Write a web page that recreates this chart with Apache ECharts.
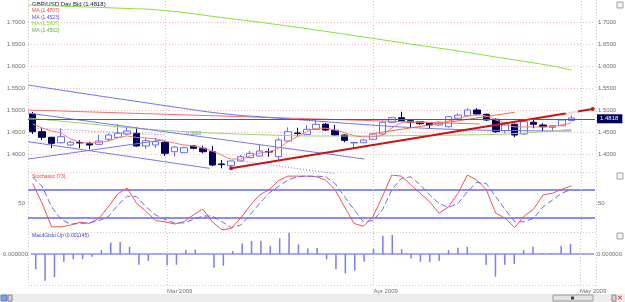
<!DOCTYPE html>
<html>
<head>
<meta charset="utf-8">
<script src="https://cdn.jsdelivr.net/npm/echarts@6/dist/echarts.min.js"></script>
<style>
html, body { margin: 0; padding: 0; background: #fff; }
#chart { width: 625px; height: 302px; }
</style>
</head>
<body>
<div id="chart"></div>
<script>
// trading days, plus two empty slots at the right edge
var dates = ['2009-02-10','2009-02-11','2009-02-12','2009-02-13','2009-02-16','2009-02-17','2009-02-18','2009-02-19','2009-02-20','2009-02-23','2009-02-24','2009-02-25','2009-02-26','2009-02-27',
  '2009-03-02','2009-03-03','2009-03-04','2009-03-05','2009-03-06','2009-03-09','2009-03-10','2009-03-11','2009-03-12','2009-03-13','2009-03-16','2009-03-17','2009-03-18','2009-03-19','2009-03-20','2009-03-23','2009-03-24','2009-03-25','2009-03-26','2009-03-27','2009-03-30','2009-03-31',
  '2009-04-01','2009-04-02','2009-04-03','2009-04-06','2009-04-07','2009-04-08','2009-04-09','2009-04-10','2009-04-13','2009-04-14','2009-04-15','2009-04-16','2009-04-17','2009-04-20','2009-04-21','2009-04-22','2009-04-23','2009-04-24','2009-04-27','2009-04-28','2009-04-29','2009-04-30',
  '2009-05-01','2009-05-04'];
var monthStarts = ['2009-03-02', '2009-04-01', '2009-05-01'];
var monthNames = ['Mar 2009', 'Apr 2009', 'May 2009'];

// open, close, low, high
var candles = [
  [1.4909,1.4507,1.4455,1.4955],[1.4507,1.4380,1.4318,1.4598],[1.4380,1.4243,1.4130,1.4386],[1.4257,1.4393,1.4239,1.4584],
  [1.4205,1.4266,1.4182,1.4295],[1.4261,1.4252,1.4136,1.4318],[1.4239,1.4205,1.4107,1.4280],[1.4220,1.4295,1.4205,1.4432],
  [1.4334,1.4432,1.4280,1.4470],[1.4380,1.4470,1.4364,1.4675],[1.4455,1.4523,1.4432,1.4591],[1.4470,1.4182,1.4166,1.4607],
  [1.4182,1.4302,1.4114,1.4357],[1.4205,1.4280,1.4136,1.4364],[1.4266,1.4016,1.3955,1.4295],[1.4052,1.4159,1.3939,1.4182],
  [1.4030,1.4143,1.4023,1.4166],[1.4182,1.4130,1.4107,1.4205],[1.4130,1.4052,1.4016,1.4189],[1.4052,1.3750,1.3727,1.4182],
  [1.3773,1.3759,1.3675,1.3864],[1.3734,1.3841,1.3675,1.3852],[1.3841,1.3939,1.3830,1.3977],[1.3916,1.4016,1.3909,1.4068],
  [1.3955,1.4068,1.3943,1.4205],[1.4057,1.4045,1.3939,1.4130],[1.3939,1.4318,1.3864,1.4364],[1.4295,1.4507,1.4284,1.4607],
  [1.4477,1.4464,1.4393,1.4598],[1.4448,1.4561,1.4436,1.4659],[1.4561,1.4675,1.4550,1.4780],[1.4675,1.4545,1.4523,1.4705],
  [1.4539,1.4432,1.4409,1.4659],[1.4432,1.4311,1.4266,1.4443],[1.4252,1.4261,1.4130,1.4266],[1.4257,1.4318,1.4250,1.4341],
  [1.4334,1.4455,1.4318,1.4477],[1.4455,1.4722,1.4420,1.4739],[1.4722,1.4825,1.4705,1.4834],[1.4825,1.4757,1.4739,1.4961],
  [1.4757,1.4722,1.4591,1.4773],[1.4734,1.4689,1.4659,1.4750],[1.4698,1.4659,1.4584,1.4716],[1.4659,1.4722,1.4636,1.4739],
  [1.4620,1.4848,1.4602,1.4864],[1.4811,1.4886,1.4795,1.4925],[1.4870,1.5000,1.4857,1.5039],[1.5000,1.4909,1.4886,1.5045],
  [1.4902,1.4773,1.4750,1.4920],[1.4789,1.4507,1.4484,1.4807],[1.4530,1.4659,1.4470,1.4670],[1.4675,1.4432,1.4380,1.4693],
  [1.4455,1.4734,1.4439,1.4750],[1.4722,1.4675,1.4584,1.4811],[1.4659,1.4620,1.4507,1.4698],[1.4607,1.4643,1.4523,1.4659],
  [1.4643,1.4773,1.4636,1.4795],[1.4761,1.4818,1.4739,1.4955]
];
var lastClose = 1.4818;

// moving averages
var maRed = [1.4682,1.4591,1.4523,1.4477,1.4341,1.4273,1.4250,1.4261,1.4295,1.4364,1.4409,1.4375,1.4364,1.4341,1.4295,1.4250,
  1.4205,1.4182,1.4136,1.4068,1.3977,1.3886,1.3886,1.3955,1.4023,1.4052,1.4130,1.4280,1.4393,1.4507,1.4584,1.4584,
  1.4545,1.4484,1.4416,1.4393,1.4393,1.4432,1.4591,1.4705,1.4727,1.4727,1.4716,1.4705,1.4750,1.4795,1.4864,1.4886,
  1.4864,1.4773,1.4705,1.4614,1.4614,1.4614,1.4614,1.4625,1.4659,1.4707];
var maBlue = [[-0.5,1.5568],[5,1.5386],[10,1.5227],[15,1.5068],[20,1.4920],[25,1.4830],[30,1.4750],[35,1.4670],[40,1.4602],[45,1.4557],[50,1.4534],[57,1.4523]];
var maGreenLong = [[-0.5,1.7386],[10,1.7307],[14,1.7261],[20,1.7102],[25,1.6966],[30,1.6818],[35,1.6659],[40,1.6500],[45,1.6341],[50,1.6170],[55,1.6000],[57,1.5907]];
var maGreen = [[-0.5,1.4818],[5,1.4705],[10,1.4602],[15,1.4523],[19,1.4477],[25,1.4432],[30,1.4409],[35,1.4409],[40,1.4420],[45,1.4432],[50,1.4455],[55,1.4523],[57,1.4562]];

// drawn trend lines (bar index, price)
var trendRed = [[21,1.3675],[59.26,1.5023]];
var trendOrange = [[35.7,1.4455],[51,1.4948]];
var trendRedTop = [[-0.5,1.5000],[47.3,1.4682]];
var trendBlueMid = [[-0.5,1.4932],[35.1,1.3886]];
var trendBlueLow = [[-0.5,1.4280],[18.7,1.3675]];
var trendBlueUp = [[-0.5,1.3886],[13.8,1.4318]];
var dotsBlue1 = [[0.2,1.4591],[14,1.4432]];
var dotsBlue2 = [[22,1.3840],[32,1.3555]];

// stochastic
var stochK = [85,50,9,9,12,17,15,24,44,67,77,50,36,20,18,14,18,30,40,18,4,6,24,46,65,74,90,98,98,98,97,
  91,74,44,15,10,27,62,100,98,83,68,53,33,44,68,100,91,74,33,24,8,28,40,65,68,75,81];
var stochD = [96,80,44,22,14,15,16,20,27,47,63,62,44,30,22,16,16,22,28,28,18,8,12,30,50,68,80,91,97,98,98,
  97,85,62,39,18,20,39,74,94,97,83,65,50,43,50,71,87,85,62,39,18,18,24,44,56,68,75];

// macd histogram
var macdHist = [-0.001729,-0.003017,-0.002633,-0.000870,-0.000599,-0.000565,-0.000305,0.000452,0.001322,0.001356,0.000825,
  -0.001209,-0.000757,0.000079,-0.001277,-0.001209,0.000452,0.000531,0.000034,-0.001548,-0.001322,0.000339,0.001209,
  0.001469,0.001469,0.000904,0.001774,0.002407,0.001096,0.000644,0.000678,-0.000599,-0.001729,-0.002181,-0.001887,
  -0.000870,0.000565,0.002068,0.002181,0.000565,-0.000486,-0.000870,-0.000938,-0.000757,0.000452,0.000712,0.000825,
  0.000023,-0.001209,-0.002565,-0.001209,-0.001130,0.000452,0.000825,0.000113,0.000113,0.000904,0.001145];

var font = 'Liberation Sans, Arial, sans-serif';
var gridLine = { color: '#eebcbc', type: [1, 2], width: 1 };
var monthLine = { color: '#c8c8c8', type: [1, 2], width: 1 };

var monthMarks = monthStarts.map(function (d) {
  return { xAxis: d, lineStyle: monthLine };
});
var monthMarksIdx = monthStarts.map(function (d) {
  return { xAxis: dates.indexOf(d), lineStyle: monthLine };
});

function priceAxis(pos, withLines) {
  return {
    type: 'value', gridIndex: 0, position: pos, min: 1.35, max: 1.75, interval: 0.05,
    axisLine: { show: false }, axisTick: { show: false },
    axisLabel: { showMinLabel: false, showMaxLabel: false, fontSize: 6, fontFamily: font, color: '#707070', margin: 3,
      formatter: function (v) { return v.toFixed(4); } },
    splitLine: { show: withLines, showMinLine: false, showMaxLine: false, lineStyle: gridLine }
  };
}
function stochAxis(pos) {
  return {
    type: 'value', gridIndex: 1, position: pos, min: 0, max: 100, interval: 50,
    axisLine: { show: false }, axisTick: { show: false }, splitLine: { show: false },
    axisLabel: { fontSize: 6, fontFamily: font, color: '#707070', margin: 3,
      formatter: function (v) { return v === 50 ? '50' : ''; } }
  };
}
function macdAxis(pos) {
  return {
    type: 'value', gridIndex: 2, position: pos, min: -0.0035, max: 0.0025, interval: 0.0005,
    axisLine: { show: false }, axisTick: { show: false }, splitLine: { show: false },
    axisLabel: { fontSize: 6, fontFamily: font, color: '#707070', margin: 3,
      formatter: function (v) { return Math.abs(v) < 1e-9 ? '0.000000' : ''; } }
  };
}
function trend(data, color, width, type) {
  return { type: 'line', xAxisIndex: 1, yAxisIndex: 0, data: data, symbol: 'none', silent: true, z: 3,
    lineStyle: { color: color, width: width, type: type || 'solid' } };
}
function legendText(x, y, text, color, size) {
  return { type: 'text', x: x, y: y, style: { text: text, fill: color, font: size + 'px ' + font, textVerticalAlign: 'middle' } };
}
function sep(x1, y1, x2, y2) {
  return { type: 'line', shape: { x1: x1, y1: y1, x2: x2, y2: y2 }, style: { stroke: '#d6c8c8', lineWidth: 1, lineDash: [1, 2] }, silent: true };
}
function closeBox(y) {
  return { type: 'rect', shape: { x: 617, y: y, width: 6, height: 6 }, style: { fill: '#f4f4f4', stroke: '#a0a0a0', lineWidth: 1 }, silent: true };
}

var chart = echarts.init(document.getElementById('chart'), null, { renderer: 'canvas' });
chart.setOption({
  animation: false,
  backgroundColor: '#ffffff',
  grid: [
    { left: 28, right: 30, top: 0, height: 176 },
    { left: 28, right: 30, top: 175, height: 57 },
    { left: 28, right: 30, top: 232, height: 53 }
  ],
  xAxis: [
    { type: 'category', gridIndex: 0, data: dates, boundaryGap: true, show: false },
    { type: 'value', gridIndex: 0, min: -0.5, max: 59.5, show: false },
    { type: 'category', gridIndex: 1, data: dates, boundaryGap: true, show: false },
    { type: 'category', gridIndex: 2, data: dates, boundaryGap: true,
      axisLine: { show: false }, axisTick: { show: false }, splitLine: { show: false },
      axisLabel: { fontSize: 6, fontFamily: font, color: '#707070', margin: 3, align: 'left',
        interval: function (i, v) { return monthStarts.indexOf(v) >= 0; },
        formatter: function (v) { return monthNames[monthStarts.indexOf(v)]; } } }
  ],
  yAxis: [
    priceAxis('left', true), priceAxis('right', false),
    stochAxis('left'), stochAxis('right'),
    macdAxis('left'), macdAxis('right')
  ],
  series: [
    { type: 'line', xAxisIndex: 1, yAxisIndex: 0, data: maGreenLong, smooth: true, symbol: 'none', silent: true, z: 3,
      lineStyle: { color: '#86e23a', width: 1 },
      markLine: { symbol: 'none', silent: true, z: 1, label: { show: false }, data: monthMarksIdx } },
    { type: 'candlestick', xAxisIndex: 0, yAxisIndex: 0, data: candles, barWidth: 7, z: 2,
      itemStyle: { color: '#ffffff', borderColor: '#6a6af4', color0: '#00005a', borderColor0: '#00005a', borderWidth: 1 },
      markLine: { symbol: 'none', silent: true,
        data: [{ yAxis: lastClose }],
        lineStyle: { color: '#5c5c5c', width: 1, type: 'solid' },
        label: { position: 'end', distance: 2, formatter: lastClose.toFixed(4), color: '#ffffff', backgroundColor: '#00005a',
          padding: [2, 4, 1, 3], fontSize: 6, fontFamily: font } } },
    trend(trendRedTop, '#f07070', 1),
    { type: 'line', xAxisIndex: 1, yAxisIndex: 0, data: maBlue, smooth: true, symbol: 'none', silent: true, z: 3,
      lineStyle: { color: '#7070f6', width: 1 } },
    { type: 'line', xAxisIndex: 1, yAxisIndex: 0, data: maGreen, smooth: true, symbol: 'none', silent: true, z: 3,
      lineStyle: { color: '#9ad27a', width: 1 } },
    trend(trendBlueMid, '#7878f4', 1),
    trend(trendBlueLow, '#7878f4', 1),
    trend(trendBlueUp, '#7878f4', 1),
    trend(dotsBlue1, '#7878f4', 1, [1, 2]),
    trend(dotsBlue2, '#7878f4', 1, [1, 2]),
    { type: 'line', xAxisIndex: 0, yAxisIndex: 0, data: maRed, smooth: 0.3, symbol: 'none', silent: true, z: 3,
      lineStyle: { color: '#f47a7a', width: 1 } },
    trend(trendOrange, '#f46a40', 1),
    { type: 'line', xAxisIndex: 1, yAxisIndex: 0, data: trendRed, symbol: 'circle', symbolSize: 4, showSymbol: true, silent: true, z: 4,
      lineStyle: { color: '#c81414', width: 2 }, itemStyle: { color: '#c81414' } },
    { type: 'scatter', xAxisIndex: 0, yAxisIndex: 0, data: [['2009-04-30', 1.4977]], symbol: 'emptyCircle', symbolSize: [11, 8], silent: true, z: 5,
      itemStyle: { color: '#ffffff', borderColor: '#8a8a8a', borderWidth: 1 } },

    { type: 'line', xAxisIndex: 2, yAxisIndex: 2, data: stochK, symbol: 'none', silent: true, z: 3,
      lineStyle: { color: '#f45050', width: 1 },
      markLine: { symbol: 'none', silent: true, z: 1, label: { show: false },
        data: [{ yAxis: 75, lineStyle: { color: '#8c8cf6', width: 2, type: 'solid' } },
               { yAxis: 25, lineStyle: { color: '#8c8cf6', width: 2, type: 'solid' } }].concat(monthMarks) } },
    { type: 'line', xAxisIndex: 2, yAxisIndex: 2, data: stochD, symbol: 'none', silent: true, z: 3,
      lineStyle: { color: '#6a6af4', width: 1, type: [6, 3] } },

    { type: 'bar', xAxisIndex: 3, yAxisIndex: 4, data: macdHist, barWidth: 1.5, silent: true,
      itemStyle: { color: '#7c7cf4' },
      markLine: { symbol: 'none', silent: true, z: 1, label: { show: false },
        data: [{ yAxis: 0, lineStyle: { color: '#8c8cf6', width: 1.5, type: 'solid' } }].concat(monthMarks) } }
  ],
  graphic: [
    sep(28, 172.5, 597, 172.5), sep(28, 232.5, 597, 232.5), sep(28, 285.5, 597, 285.5),
    sep(28.5, 0, 28.5, 286), sep(596.5, 0, 596.5, 286),
    legendText(32, 4.5, 'GBP/USD Day Bid (1.4818)', '#10104a', 6),
    legendText(32, 11, 'MA (1.4707)', '#f04040', 5),
    legendText(32, 17.5, 'MA (1.4523)', '#4848f0', 5),
    legendText(32, 24, 'MA (1.5907)', '#7ed82c', 5),
    legendText(32, 30.5, 'MA (1.4562)', '#6aa848', 5),
    legendText(186, 133.5, '0.0800', '#5a5af0', 5),
    legendText(32, 176.5, 'Stochastic (73)', '#f03c3c', 5),
    legendText(32, 235.5, 'MacdGisto Up (0.001145)', '#3a3ac8', 5),
    closeBox(2), closeBox(173), closeBox(233),
    { type: 'rect', shape: { x: 0, y: 294, width: 625, height: 8 }, style: { fill: '#ececec' }, silent: true },
    { type: 'rect', shape: { x: 553, y: 295, width: 40, height: 6 }, style: { fill: '#e2e2e2', stroke: '#9a9a9a', lineWidth: 1 }, silent: true },
    { type: 'rect', shape: { x: 571, y: 296.5, width: 3, height: 3 }, style: { fill: '#404040' }, silent: true },
    { type: 'rect', shape: { x: 1, y: 295, width: 6, height: 6 }, style: { fill: '#7aa0d8', stroke: '#6080b0' }, silent: true },
    { type: 'rect', shape: { x: 8, y: 295, width: 4, height: 6 }, style: { fill: '#d8d8d8', stroke: '#808080' }, silent: true },
    { type: 'rect', shape: { x: 612, y: 295, width: 4, height: 6 }, style: { fill: '#d8d8d8', stroke: '#808080' }, silent: true },
    legendText(617, 298, '✕', '#d02020', 7)
  ]
});
</script>
</body>
</html>
